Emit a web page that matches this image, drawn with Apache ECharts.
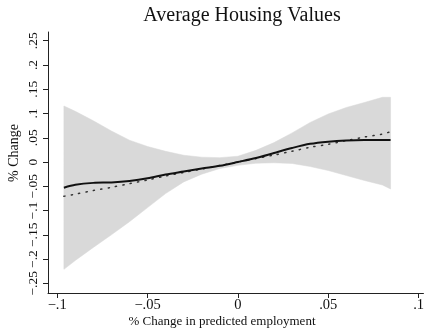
<!DOCTYPE html>
<html>
<head>
<meta charset="utf-8">
<script src="https://cdn.jsdelivr.net/npm/echarts@6/dist/echarts.min.js"></script>
<style>
  html, body { margin: 0; padding: 0; background: #fff; }
  #chart { width: 427px; height: 332px; }
</style>
</head>
<body>
<div id="chart"></div>
<script>
// Change in predicted employment (x positions of the fitted curves)
const employmentChange = [-0.0963, -0.09, -0.08, -0.07, -0.06, -0.05, -0.04, -0.03, -0.02, -0.01,
  0, 0.01, 0.02, 0.03, 0.04, 0.05, 0.06, 0.07, 0.08, 0.0845];
// Local polynomial fit of % change in housing values
const localFit = [-0.053, -0.047, -0.043, -0.042, -0.039, -0.0336, -0.0258, -0.0196, -0.0134, -0.0078,
  0, 0.0082, 0.0186, 0.0289, 0.0375, 0.042, 0.0445, 0.0454, 0.0454, 0.0454];
// Linear fit
const linearFit = [-0.0707, -0.0664, -0.0588, -0.0522, -0.0447, -0.0371, -0.0289, -0.0216, -0.0144, -0.0072,
  0, 0.0072, 0.0144, 0.0221, 0.0305, 0.0365, 0.0443, 0.0515, 0.0577, 0.0625];
// Confidence band
const upperCI = [0.1155, 0.1045, 0.085, 0.064, 0.045, 0.032, 0.022, 0.014, 0.010, 0.009,
  0.012, 0.024, 0.040, 0.060, 0.0816, 0.099, 0.1124, 0.1227, 0.1334, 0.1334];
const lowerCI = [-0.2213, -0.203, -0.176, -0.15, -0.123, -0.094, -0.065, -0.041, -0.025, -0.0134,
  -0.0068, -0.0025, -0.0016, -0.003, -0.0093, -0.0175, -0.0278, -0.0381, -0.0474, -0.0557];

// Axis ticks and their labels
const xTickValues = [-0.1, -0.05, 0, 0.05, 0.1];
const xTickLabels = ['\u2212.1', '\u2212.05', '0', '.05', '.1'];
const yTickValues = [-0.25, -0.2, -0.15, -0.1, -0.05, 0, 0.05, 0.1, 0.15, 0.2, 0.25];
const yTickLabels = ['\u2212.25', '\u2212.2', '\u2212.15', '\u2212.1', '\u2212.05', '0', '.05', '.1', '.15', '.2', '.25'];

const serif = '"Liberation Serif", "Times New Roman", serif';
const ink = '#222';

function labelFor(values, labels) {
  return function (v) {
    let best = 0;
    for (let i = 1; i < values.length; i++) {
      if (Math.abs(values[i] - v) < Math.abs(values[best] - v)) best = i;
    }
    return labels[best];
  };
}

const pairs = arr => employmentChange.map((x, i) => [x, arr[i]]);

// Confidence band drawn as one closed shape: upper edge left-to-right, lower edge back
function renderBand(params, api) {
  const top = employmentChange.map((x, i) => api.coord([x, upperCI[i]]));
  const bottom = employmentChange.map((x, i) => api.coord([x, lowerCI[i]])).reverse();
  return {
    type: 'polygon',
    shape: { points: top.concat(bottom) },
    style: { fill: '#d9d9d9', stroke: '#d9d9d9', lineWidth: 0.5 }
  };
}

const chart = echarts.init(document.getElementById('chart'), null, { renderer: 'canvas' });
chart.setOption({
  animation: false,
  backgroundColor: '#fff',
  title: {
    text: 'Average Housing Values',
    left: 237, top: 1, textAlign: 'center',
    textStyle: { fontFamily: serif, fontSize: 20, fontWeight: 'normal', color: '#111' }
  },
  grid: { left: 48, right: 2, top: 32, bottom: 39 },
  xAxis: {
    type: 'value',
    min: -0.1051, max: 0.1027,
    splitLine: { show: false },
    axisLine: { onZero: false, lineStyle: { color: ink, width: 1 } },
    axisTick: { customValues: xTickValues, length: 5, lineStyle: { color: ink } },
    axisLabel: {
      customValues: xTickValues, margin: 5,
      formatter: labelFor(xTickValues, xTickLabels),
      fontFamily: serif, fontSize: 14.5, color: '#111'
    }
  },
  yAxis: {
    type: 'value',
    min: -0.270, max: 0.268,
    splitLine: { show: false },
    axisLine: { onZero: false, lineStyle: { color: ink, width: 1 } },
    axisTick: { customValues: yTickValues, length: 5, lineStyle: { color: ink } },
    axisLabel: {
      customValues: yTickValues, rotate: 90, margin: 8,
      formatter: labelFor(yTickValues, yTickLabels),
      fontFamily: serif, fontSize: 13.5, color: '#111'
    }
  },
  graphic: [
    {
      type: 'text', x: 14, y: 153, rotation: Math.PI / 2,
      style: { text: '% Change', font: '14px ' + serif, fill: '#111', align: 'center', verticalAlign: 'middle' }
    },
    {
      type: 'text', x: 222, y: 322,
      style: { text: '% Change in predicted employment', font: '13px ' + serif, fill: '#111', align: 'center', verticalAlign: 'middle' }
    }
  ],
  series: [
    {
      name: 'band', type: 'custom', renderItem: renderBand,
      data: [[employmentChange[0], upperCI[0]]], z: 1, silent: true, clip: true
    },
    {
      name: 'linear', type: 'line', data: pairs(linearFit), symbol: 'none', smooth: 0.3,
      lineStyle: { color: '#333', width: 1.5, type: [1.2, 6.3], cap: 'round' }, z: 3
    },
    {
      name: 'local', type: 'line', data: pairs(localFit), symbol: 'none', smooth: 0.3,
      lineStyle: { color: '#111', width: 2 }, z: 4
    }
  ]
});
</script>
</body>
</html>
